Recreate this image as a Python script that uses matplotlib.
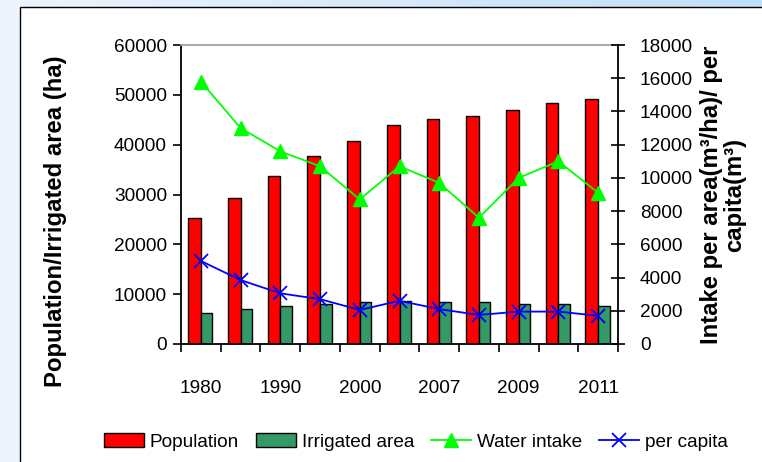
import numpy as np
import matplotlib
matplotlib.use("Agg")
import matplotlib.pyplot as plt
from matplotlib.patches import Rectangle
from matplotlib.ticker import FixedLocator, NullFormatter

plt.rcParams['font.family'] = ['Liberation Sans', 'DejaVu Sans']

years = ['1980', '1985', '1990', '1995', '2000', '2005', '2007', '2008', '2009', '2010', '2011']
population = [25200, 29300, 33800, 37700, 40700, 44000, 45100, 45800, 46900, 48400, 49100]
irrigated = [6200, 7000, 7700, 8000, 8500, 8700, 8400, 8400, 8100, 8100, 7700]
water_intake = [15800, 13000, 11600, 10700, 8700, 10700, 9700, 7600, 10000, 11000, 9100]
per_capita = [5000, 3850, 3050, 2700, 2050, 2600, 2100, 1750, 1950, 1950, 1700]

W, H = 762, 462
fig = plt.figure(figsize=(W / 100, H / 100), dpi=100)

# light blue slide-like background with a white framed panel
bg = fig.add_axes([0, 0, 1, 1])
gx, gy = np.meshgrid(np.linspace(0, 1, 200), np.linspace(0, 1, 100))
t = np.clip(gx * 0.85 * (1 - gy * 0.6), 0, 1)[..., None]
light = np.array([0.93, 0.96, 0.99])
blue = np.array([0.72, 0.86, 0.97])
bg.imshow(light + t * (blue - light), extent=[0, 1, 0, 1], aspect='auto', origin='upper')
bg.add_patch(Rectangle((20 / W, -0.05), 1.1, 1 - 7 / H + 0.05, transform=bg.transAxes,
                       facecolor='white', edgecolor='black', linewidth=1, clip_on=False))
bg.set_xlim(0, 1)
bg.set_ylim(0, 1)
bg.axis('off')

ax = fig.add_axes([181 / W, 1 - 344 / H, 437 / W, 299 / H])
ax.set_zorder(2)
ax.patch.set_alpha(0)
x = np.arange(len(years))

b1 = ax.bar(x - 0.16, population, 0.32, color='#ff0000', edgecolor='black', linewidth=1, label='Population')
b2 = ax.bar(x + 0.145, irrigated, 0.29, color='#339966', edgecolor='black', linewidth=1, label='Irrigated area')
ax.set_xlim(-0.5, len(years) - 0.5)
ax.set_ylim(0, 60000)
ax.set_yticks(np.arange(0, 60001, 10000))
ax.tick_params(axis='y', direction='out', length=6, width=1.2, pad=4, labelsize=13.7)

ax.xaxis.set_major_locator(FixedLocator(np.arange(-0.5, len(years), 1)))
ax.xaxis.set_major_formatter(NullFormatter())
ax.set_xticks(x[::2], minor=True)
ax.set_xticklabels(years[::2], minor=True)
ax.tick_params(axis='x', which='major', direction='out', length=6, width=1.2)
ax.tick_params(axis='x', which='minor', length=0, pad=26, labelsize=13.7)

ax2 = ax.twinx()
l1, = ax2.plot(x, water_intake, color='#00ff00', lw=1.3, marker='^', markersize=10, label='Water intake')
l2, = ax2.plot(x, per_capita, color='#0000ff', lw=1.3, marker='x', markersize=10, markeredgewidth=1.3,
               label='per capita')
ax2.set_ylim(0, 18000)
ax2.set_yticks(np.arange(0, 18001, 2000))
ax2.tick_params(axis='y', direction='inout', length=9.4, width=1.2, pad=11, labelsize=13.7)

for a in (ax, ax2):
    for s in a.spines.values():
        s.set_linewidth(1.3)
ax.spines['top'].set_color('#a0a0a0')
ax.spines['right'].set_visible(False)
for s in ('top', 'left', 'bottom'):
    ax2.spines[s].set_visible(False)

fig.text(56 / W, 1 - 221 / H, 'Population/Irrigated area (ha)', rotation=90, ha='center', va='center',
         fontsize=17.2, fontweight='bold')
fig.text(723 / W, 1 - 195 / H, 'Intake per area(m³/ha)/ per\ncapita(m³)', rotation=90, ha='center',
         va='center', fontsize=17.2, fontweight='bold', multialignment='center', linespacing=1.0)

fig.legend(handles=[b1, b2, l1, l2], loc='center', bbox_to_anchor=(416 / W, 1 - 442 / H), ncol=4,
           frameon=False, fontsize=13.7, handlelength=2.1, handletextpad=0.3, columnspacing=0.9)

fig.savefig('out.png', dpi=100)
